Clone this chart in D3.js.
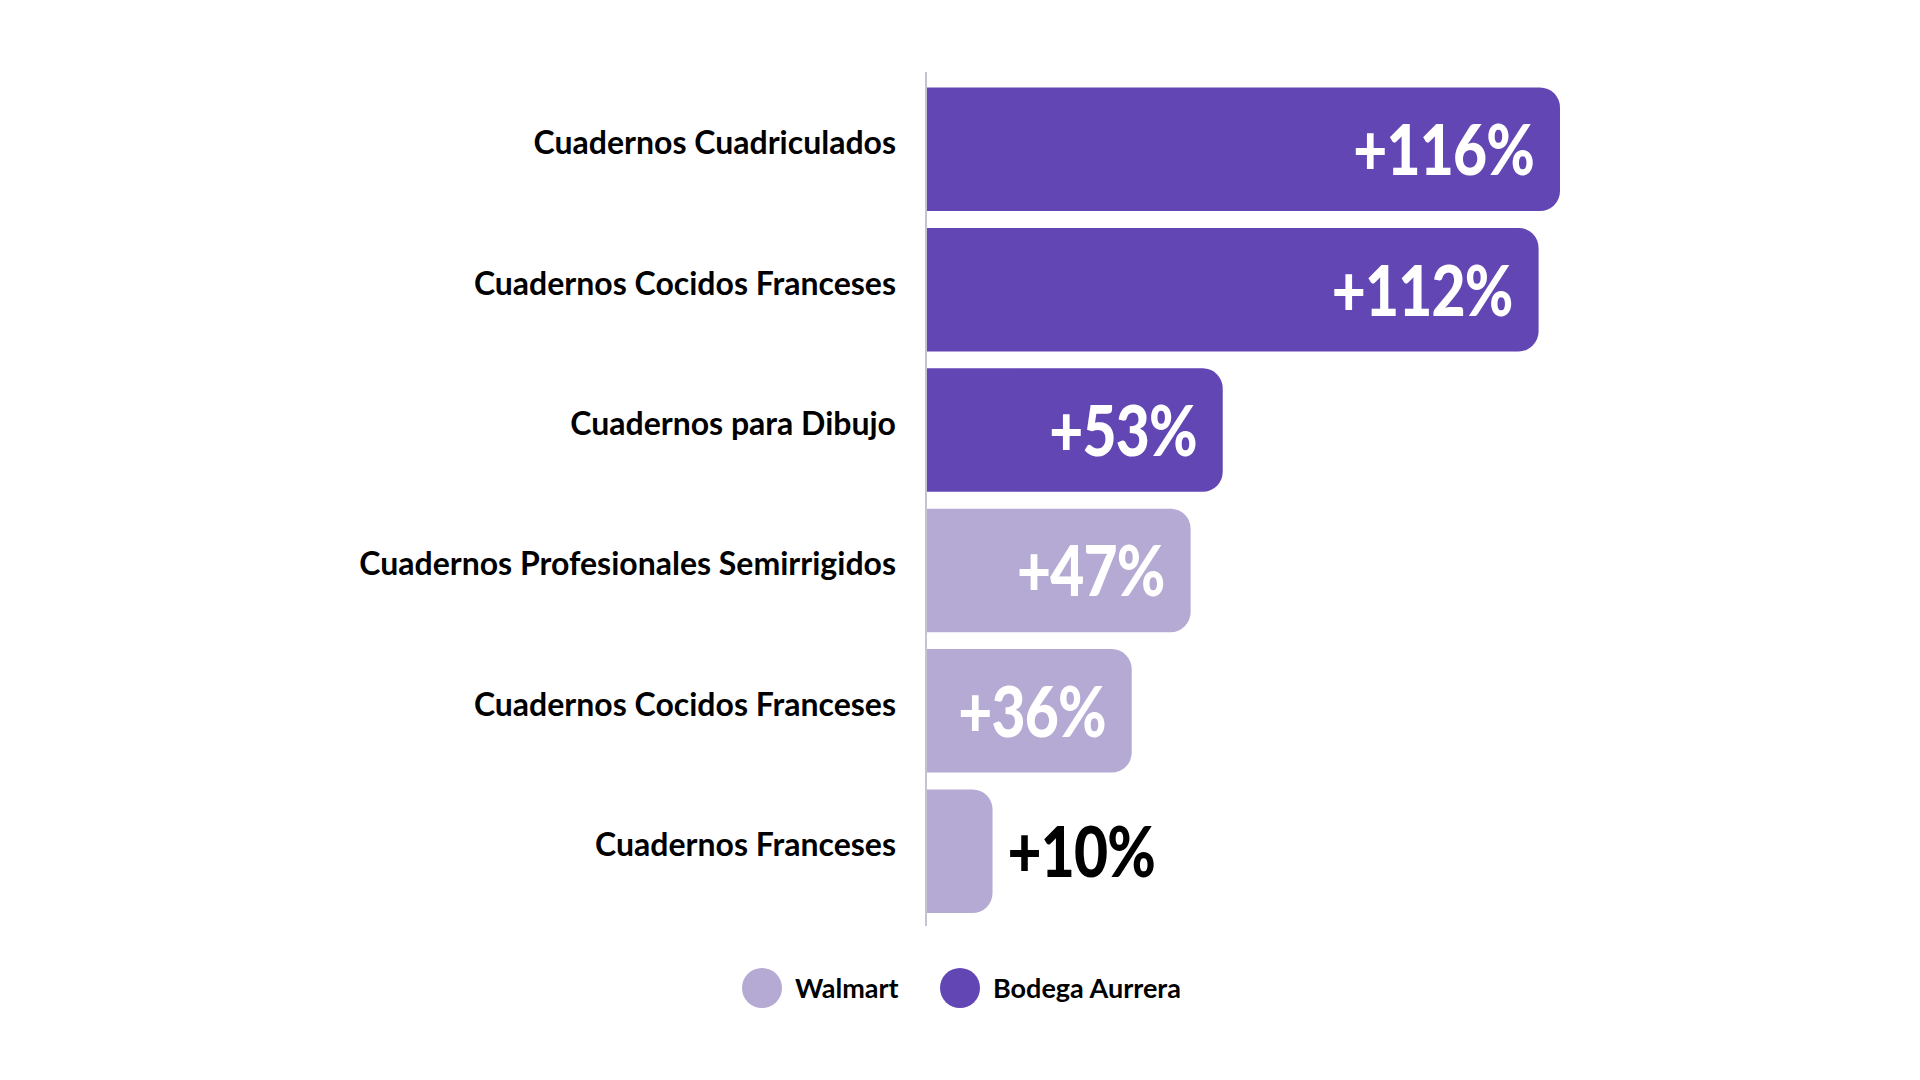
<!DOCTYPE html>
<html>
<head>
<meta charset="utf-8">
<script src="https://cdn.jsdelivr.net/npm/d3@7"></script>
<style>
  body { margin: 0; background: #fff; }
  text { font-family: Lato, "Open Sans", sans-serif; }
</style>
</head>
<body>
<div id="chart"></div>
<script>
var w = 1920;
var h = 1080;

// data
var categories = [
    "Cuadernos Cuadriculados",
    "Cuadernos Cocidos Franceses ",
    "Cuadernos para Dibujo",
    "Cuadernos Profesionales Semirrigidos",
    "Cuadernos Cocidos Franceses",
    "Cuadernos Franceses"
];
var values = [116, 112, 53, 47, 36, 10];
var stores = ["Bodega Aurrera", "Bodega Aurrera", "Bodega Aurrera", "Walmart", "Walmart", "Walmart"];
var legendLabels = ["Walmart", "Bodega Aurrera"];
var legendColors = ["#b5aad3", "#6247b4"];

var dataset = categories.map(function (c, i) {
    return { cat: c, value: values[i], store: stores[i] };
});

var axisX = 926;
var radius = 20;
var squeeze = 0.84;   // the original font is narrower than Lato

var color = d3.scaleOrdinal().domain(legendLabels).range(legendColors);

var yScale = d3.scaleBand()
    .domain(categories)
    .range([87.5, 913])
    .paddingInner(0.12)
    .paddingOuter(0);

var xScale = d3.scaleLinear()
    .domain([0, 116])
    .range([axisX + 13, 1560]);

function barPath(d) {
    var x0 = axisX, x1 = xScale(d.value), y = yScale(d.cat), bh = yScale.bandwidth(), r = radius;
    return "M" + x0 + "," + y +
        "H" + (x1 - r) +
        "A" + r + "," + r + " 0 0 1 " + x1 + "," + (y + r) +
        "V" + (y + bh - r) +
        "A" + r + "," + r + " 0 0 1 " + (x1 - r) + "," + (y + bh) +
        "H" + x0 + "Z";
}

var svg = d3.select("#chart")
    .append("svg")
    .attr("width", w)
    .attr("height", h);

svg.selectAll("path.bar")
    .data(dataset)
    .enter()
    .append("path")
    .attr("class", "bar")
    .attr("fill", function (d) { return color(d.store); })
    .attr("d", barPath);

// vertical axis line
svg.append("line")
    .attr("x1", axisX)
    .attr("x2", axisX)
    .attr("y1", 72)
    .attr("y2", 926)
    .attr("stroke", "#c6c2cf")
    .attr("stroke-width", 2);

// category labels
svg.selectAll("text.cat")
    .data(dataset)
    .enter()
    .append("text")
    .attr("class", "cat")
    .attr("x", 896)
    .attr("y", function (d) { return yScale(d.cat) + yScale.bandwidth() / 2 + 5; })
    .attr("text-anchor", "end")
    .attr("font-size", 32)
    .attr("font-weight", 700)
    .attr("fill", "#000")
    .text(function (d) { return d.cat.trim(); });

// value labels: inside the bar when there is room, else just after it
function inside(d) { return d.value > 20; }

svg.selectAll("text.val")
    .data(dataset)
    .enter()
    .append("text")
    .attr("class", "val")
    .attr("transform", function (d) {
        var x = inside(d) ? xScale(d.value) - 26 : xScale(d.value) + 15;
        var y = yScale(d.cat) + yScale.bandwidth() / 2 + 26;
        return "translate(" + x + "," + y + ") scale(" + squeeze + ",1)";
    })
    .attr("text-anchor", function (d) { return inside(d) ? "end" : "start"; })
    .attr("font-size", 70)
    .attr("font-weight", 900)
    .attr("letter-spacing", -1)
    .attr("fill", function (d) { return inside(d) ? "#fff" : "#000"; })
    .text(function (d) { return "+" + d.value + "%"; });

// legend
var legendX = [762, 960];
var legend = svg.selectAll("g.legend")
    .data(legendLabels)
    .enter()
    .append("g")
    .attr("class", "legend")
    .attr("transform", function (d, i) { return "translate(" + legendX[i] + ",988)"; });

legend.append("circle")
    .attr("r", 20)
    .attr("fill", function (d) { return color(d); });

legend.append("text")
    .attr("x", 33)
    .attr("y", 10)
    .attr("font-size", 27)
    .attr("font-weight", 700)
    .attr("fill", "#000")
    .text(function (d) { return d; });
</script>
</body>
</html>
